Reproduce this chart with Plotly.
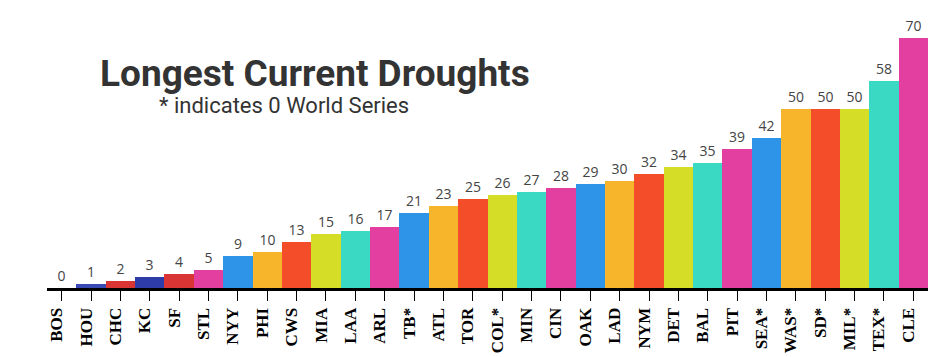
import plotly.graph_objects as go

teams = ["BOS", "HOU", "CHC", "KC", "SF", "STL", "NYY", "PHI", "CWS", "MIA",
         "LAA", "ARL", "TB*", "ATL", "TOR", "COL*", "MIN", "CIN", "OAK", "LAD",
         "NYM", "DET", "BAL", "PIT", "SEA*", "WAS*", "SD*", "MIL*", "TEX*", "CLE"]
years = [0, 1, 2, 3, 4, 5, 9, 10, 13, 15, 16, 17, 21, 23, 25, 26, 27, 28, 29, 30,
         32, 34, 35, 39, 42, 50, 50, 50, 58, 70]
first_colors = ["#3a4ab5", "#3a4ab5", "#d93535", "#2d3ca8", "#d93535", "#e23fa0"]
cycle = ["#2e94e8", "#f7b52c", "#f44d29", "#d6dd27", "#3ad9c3", "#e33fa0"]
colors = first_colors + [cycle[i % 6] for i in range(len(teams) - 6)]

fig = go.Figure(go.Bar(
    x=teams, y=years,
    marker=dict(color=colors, line=dict(width=0)),
    text=[str(v) for v in years], textposition="outside",
    textfont=dict(family="Open Sans, Noto Sans, sans-serif", size=14, color="#444"),
    cliponaxis=False,
))

fig.update_layout(
    width=939, height=357,
    margin=dict(l=47, r=11, t=20, b=69, autoexpand=False),
    paper_bgcolor="white", plot_bgcolor="white",
    bargap=0, showlegend=False,
    xaxis=dict(
        type="category", showgrid=False, showline=True, linecolor="black", linewidth=3,
        ticks="outside", ticklen=10, tickwidth=1, tickcolor="black", tickangle=-90,
        ticklabelshift=-5,
        automargin=False,
        tickfont=dict(family="Liberation Serif, Times New Roman, serif", size=17, color="black"),
        tickvals=teams, ticktext=["<b>" + t + "</b>" for t in teams],
    ),
    yaxis=dict(range=[0, 75.04], visible=False, automargin=False),
    annotations=[
        dict(text="<b>Longest Current Droughts</b>", xref="paper", yref="paper",
             x=0.058, y=0.80, xanchor="left", yanchor="middle", showarrow=False,
             font=dict(family="Roboto, sans-serif", size=37, color="#333")),
        dict(text="* indicates 0 World Series", xref="paper", yref="paper",
             x=0.125, y=0.682, xanchor="left", yanchor="middle", showarrow=False,
             font=dict(family="Roboto, sans-serif", size=22, color="#333")),
    ],
)

fig.write_html("out.html", config={"displayModeBar": False},
               post_script="document.body.style.margin='0';document.body.style.overflow='hidden';")
